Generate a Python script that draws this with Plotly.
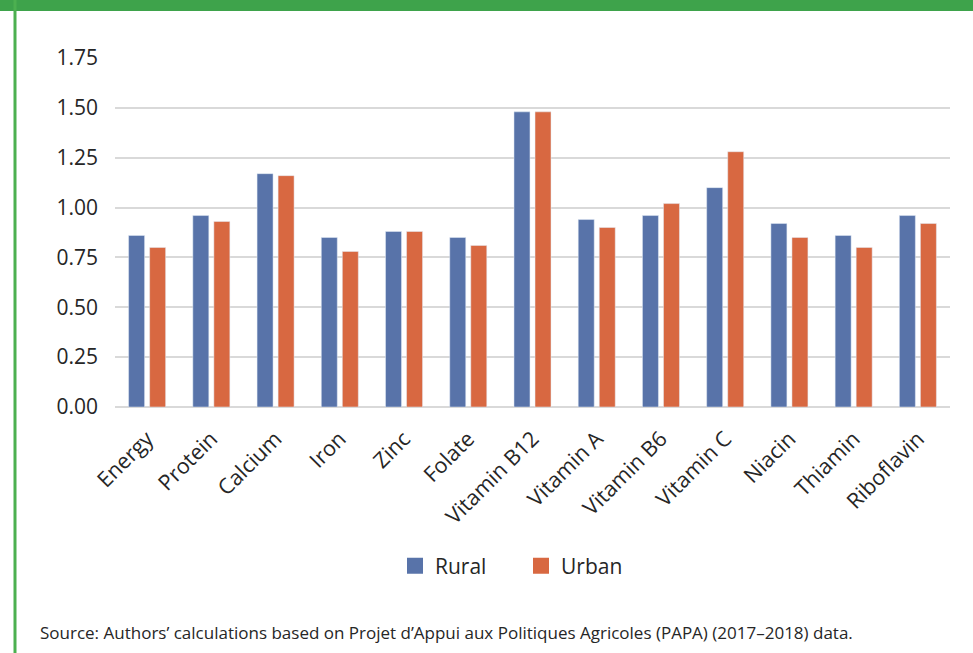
import plotly.graph_objects as go

# Nutrient adequacy ratios by area of residence
nutrients = ["Energy", "Protein", "Calcium", "Iron", "Zinc", "Folate", "Vitamin B12",
             "Vitamin A", "Vitamin B6", "Vitamin C", "Niacin", "Thiamin", "Riboflavin"]
rural = [0.86, 0.96, 1.17, 0.85, 0.88, 0.85, 1.48, 0.94, 0.96, 1.10, 0.92, 0.86, 0.96]
urban = [0.80, 0.93, 1.16, 0.78, 0.88, 0.81, 1.48, 0.90, 1.02, 1.28, 0.85, 0.80, 0.92]
y_ticks = [0, 0.25, 0.5, 0.75, 1.0, 1.25, 1.5, 1.75]

BLUE = "#5873a9"
ORANGE = "#d86841"
GREEN = "#3ea34b"
FONT = "Open Sans"
TEXT = "#262626"

W, H = 973, 653
L, R, T, B = 115, 23, 58, 246
pw, ph = W - L - R, H - T - B


def px_x(x):
    return (x - L) / pw


def px_y(y):
    return (H - B - y) / ph


fig = go.Figure()
for name, vals, col in [("Rural", rural, BLUE), ("Urban", urban, ORANGE)]:
    fig.add_trace(go.Bar(name=name, x=nutrients, y=vals, marker_color=col,
                         legendgroup=name, showlegend=False))
    # legend key: a larger square swatch for each series
    fig.add_trace(go.Scatter(name=name, x=[None], y=[None], mode="markers",
                             marker=dict(symbol="square", size=16, color=col),
                             legendgroup=name, showlegend=True))

fig.update_layout(
    width=W, height=H,
    margin=dict(l=L, r=R, t=T, b=B),
    paper_bgcolor="white", plot_bgcolor="white",
    barmode="group", bargap=0.345, bargroupgap=0.24,
    font=dict(family=FONT, color=TEXT, size=20),
    showlegend=True,
    legend=dict(orientation="h", x=px_x(395), xanchor="left",
                y=px_y(566), yanchor="middle",
                font=dict(size=21, family=FONT, color=TEXT),
                entrywidth=81, entrywidthmode="pixels",
                itemclick=False),
    xaxis=dict(tickangle=-45, tickfont=dict(size=21.5), showgrid=False,
               showline=False, ticks="", ticklabelstandoff=14),
    yaxis=dict(range=[0, 1.75], tickvals=y_ticks, tickformat=".2f",
               tickfont=dict(size=21), gridcolor="#d9d9d9", gridwidth=2,
               zeroline=True, zerolinecolor="#d9d9d9", zerolinewidth=2,
               showline=False, ticks="", ticklabelstandoff=16),
    shapes=[
        dict(type="rect", xref="paper", yref="paper",
             x0=px_x(-5), x1=px_x(W + 5), y0=px_y(11), y1=px_y(-5),
             fillcolor=GREEN, line=dict(width=0), layer="above"),
        dict(type="line", xref="paper", yref="paper",
             x0=px_x(15), x1=px_x(15), y0=px_y(0), y1=px_y(H + 5),
             line=dict(color="#4cb050", width=3)),
    ],
    annotations=[
        dict(text="Source: Authors’ calculations based on Projet d’Appui aux Politiques "
                  "Agricoles (PAPA) (2017–2018) data.",
             xref="paper", yref="paper", x=px_x(38), y=px_y(632),
             xanchor="left", yanchor="middle", showarrow=False,
             font=dict(size=17, family=FONT, color=TEXT)),
    ],
)

fig.write_html("out.html")
